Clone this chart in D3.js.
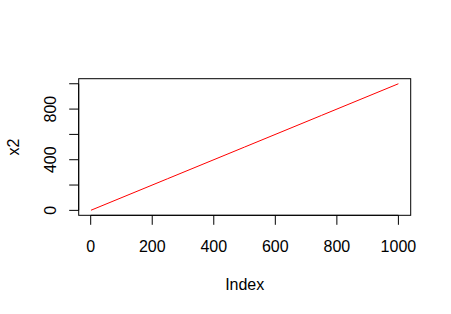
<!DOCTYPE html>
<html>
<head>
<meta charset="utf-8">
<script src="https://cdn.jsdelivr.net/npm/d3@7"></script>
<style>
  body { margin: 0; background: #fff; }
  text { font-family: "Liberation Sans", Arial, Helvetica, sans-serif; fill: #000; }
</style>
</head>
<body>
<svg id="chart" width="451" height="314"></svg>
<script>
// data: x2 plotted against its index
const indexValues = [1, 250, 500, 750, 1000];
const x2Values = [1, 250, 500, 750, 1000];
const xTicks = [0, 200, 400, 600, 800, 1000];
const yTicks = [0, 200, 400, 600, 800, 1000];
const yTickLabels = ["0", "", "400", "", "800", ""];

function drawPlot() {
    const svg = d3.select("#chart");

    // plot region
    const box = { left: 78.7, right: 410.7, top: 78.7, bottom: 215.3 };

    // R pads the data range by 4% on each side
    const pad = 999 * 0.04;
    const x = d3.scaleLinear().domain([1 - pad, 1000 + pad]).range([box.left, box.right]);
    const y = d3.scaleLinear().domain([1 - pad, 1000 + pad]).range([box.bottom, box.top]);

    // the line
    const line = d3.line().x((d, i) => x(indexValues[i])).y(d => y(d));
    svg.append("path")
        .datum(x2Values)
        .attr("d", line)
        .attr("fill", "none")
        .attr("stroke", "#ff0000")
        .attr("stroke-width", 1);

    // box
    svg.append("rect")
        .attr("x", box.left).attr("y", box.top)
        .attr("width", box.right - box.left).attr("height", box.bottom - box.top)
        .attr("fill", "none").attr("stroke", "#000").attr("stroke-width", 1);

    // x axis
    const xAxis = svg.append("g").attr("transform", `translate(0,${box.bottom})`);
    xAxis.append("line")
        .attr("x1", x(xTicks[0])).attr("x2", x(xTicks[xTicks.length - 1]))
        .attr("stroke", "#000");
    xAxis.selectAll(".tick").data(xTicks).enter().append("line")
        .attr("x1", d => x(d)).attr("x2", d => x(d))
        .attr("y1", 0).attr("y2", 9.5)
        .attr("stroke", "#000");
    xAxis.selectAll(".lab").data(xTicks).enter().append("text")
        .attr("x", d => x(d)).attr("y", 36.5)
        .attr("text-anchor", "middle")
        .attr("font-size", "16px")
        .text(d => d);

    // y axis
    const yAxis = svg.append("g").attr("transform", `translate(${box.left},0)`);
    yAxis.append("line")
        .attr("y1", y(yTicks[0])).attr("y2", y(yTicks[yTicks.length - 1]))
        .attr("stroke", "#000");
    yAxis.selectAll(".tick").data(yTicks).enter().append("line")
        .attr("y1", d => y(d)).attr("y2", d => y(d))
        .attr("x1", 0).attr("x2", -9.5)
        .attr("stroke", "#000");
    yAxis.selectAll(".lab").data(yTicks).enter().append("text")
        .attr("transform", d => `translate(-23,${y(d)}) rotate(-90)`)
        .attr("text-anchor", "middle")
        .attr("font-size", "16px")
        .text((d, i) => yTickLabels[i]);

    // axis titles
    svg.append("text")
        .attr("x", (box.left + box.right) / 2).attr("y", 290)
        .attr("text-anchor", "middle")
        .attr("font-size", "16px")
        .text("Index");

    svg.append("text")
        .attr("transform", `translate(18.5,${(box.top + box.bottom) / 2}) rotate(-90)`)
        .attr("text-anchor", "middle")
        .attr("font-size", "16px")
        .text("x2");
}

drawPlot();
</script>
</body>
</html>
